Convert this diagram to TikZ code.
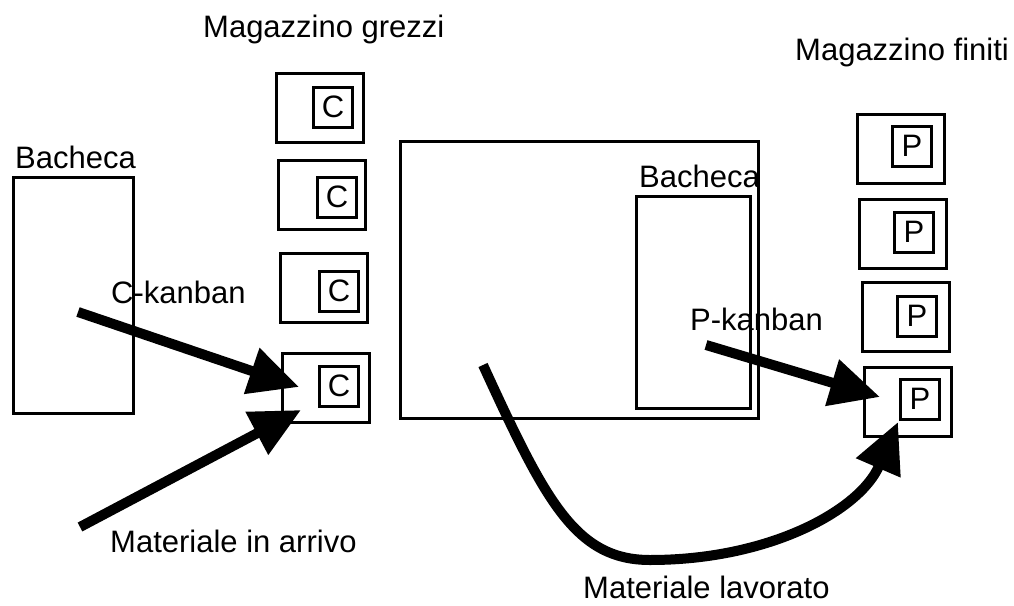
\documentclass[tikz,border=0pt]{standalone}
\usepackage{fontspec}
\setmainfont{Liberation Sans}
\usetikzlibrary{arrows.meta,calc}

\begin{document}
\begin{tikzpicture}[x=1pt,y=-1pt,>={Triangle[length=50pt,width=46pt]}]
  \tikzstyle{bin} = [draw, line width=3pt, rectangle, minimum width=87pt, minimum height=69pt, inner sep=0pt]
  \tikzstyle{card} = [draw, line width=3pt, rectangle, minimum width=39pt, minimum height=40pt, inner sep=0pt, font=\fontsize{31}{31}\selectfont]
  \tikzstyle{board} = [draw, line width=3pt, rectangle, inner sep=0pt]
  \tikzstyle{caption} = [anchor=base west, inner sep=0pt, font=\fontsize{31}{36}\selectfont]
  \tikzstyle{flowEdge} = [line width=10pt, ->];

  \useasboundingbox (0,0) rectangle (1014,605);

  % magazzino grezzi
  \node[bin]  (C1) at (320,108) {};
  \node[bin]  (C2) at (322,195) {};
  \node[bin]  (C3) at (324,288) {};
  \node[bin]  (C4) at (326,388) {};
  \node[card] (K1) at (333,107) {C};
  \node[card] (K2) at (337,197) {C};
  \node[card] (K3) at (339,291) {C};
  \node[card] (K4) at (339,386) {C};

  % magazzino finiti
  \node[bin]  (P1) at (901,149) {};
  \node[bin]  (P2) at (903,234) {};
  \node[bin]  (P3) at (906,317) {};
  \node[bin]  (P4) at (908,402) {};
  \node[card] (Q1) at (912,146) {P};
  \node[card] (Q2) at (914,232) {P};
  \node[card] (Q3) at (917,316) {P};
  \node[card] (Q4) at (920,399) {P};

  % bacheche e reparto
  \node[board, minimum width=120pt, minimum height=236pt] (B1) at (73,295) {};
  \node[board, minimum width=358pt, minimum height=277pt] (R)  at (579,280) {};
  \node[board, minimum width=114pt, minimum height=212pt] (B2) at (693,302) {};

  % testi
  \node[caption] (tG)  at (203,37)  {Magazzino grezzi};
  \node[caption] (tF)  at (795,60)  {Magazzino finiti};
  \node[caption] (tB1) at (15,168)  {Bacheca};
  \node[caption] (tB2) at (639,187) {Bacheca};
  \node[caption] (tCk) at (111,303) {C-kanban};
  \node[caption] (tPk) at (690,330) {P-kanban};
  \node[caption] (tMa) at (110,552) {Materiale in arrivo};
  \node[caption] (tMl) at (583,598) {Materiale lavorato};

  \coordinate (sC) at (78,312);
  \coordinate (sM) at (80,527);
  \coordinate (sP) at (706,345);
  \coordinate (sL) at (483,365);
  \coordinate (eC) at ($(C4.west)+(18,-1)$);
  \coordinate (eM) at ($(C4.west)+(20,22)$);
  \coordinate (eP) at ($(P4.west)+(17,-5)$);
  \coordinate (eL) at ($(P4.west)+(35,20)$);

  \draw[flowEdge] (sC) -- (eC);
  \draw[flowEdge] (sM) -- (eM);
  \draw[flowEdge] (sP) -- (eP);
  \draw[flowEdge] (sL) .. controls (545,500) and (575,560) .. (650,560)
                       .. controls (770,560) and (860,510) .. (eL);

\end{tikzpicture}
\end{document}
